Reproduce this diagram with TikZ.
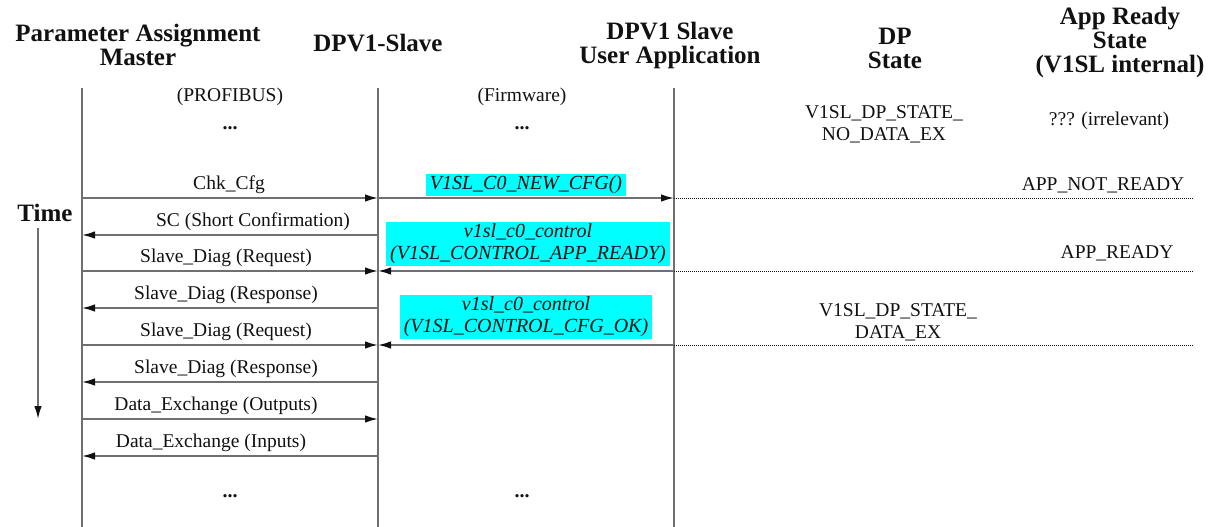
\documentclass[tikz,border=0pt]{standalone}
\usepackage{fontspec}
\setmainfont{Liberation Serif}
\usetikzlibrary{positioning,arrows.meta,calc}
\definecolor{ink}     {HTML}{111111}
\definecolor{rule}    {HTML}{707070}
\definecolor{callfill}{HTML}{00FFFF}
\tikzset{
  >={Latex[length=13pt,width=7.5pt,color=ink]},
  every node/.style={font=\fontsize{19.5}{22}\selectfont, text=ink},
  % --- nodes
  head/.style  = {align=center, inner sep=0pt,
                  font=\fontsize{25}{24}\selectfont\bfseries},
  sub/.style   = {inner sep=0pt},
  dots/.style  = {inner sep=0pt, font=\fontsize{20}{22}\selectfont\bfseries},
  msg/.style   = {inner sep=0pt},
  call/.style  = {fill=callfill, align=center, inner xsep=4pt, inner ysep=2pt,
                  font=\fontsize{20}{22}\selectfont\itshape},
  state/.style = {align=center, inner sep=0pt},
  % --- edges
  life/.style  = {draw=rule, line width=1.4pt},
  e/.style     = {->, draw=rule, line width=1.6pt},
  sepline/.style = {draw=ink, line width=0.6pt, dash pattern=on 1pt off 1pt},
}

\begin{document}
\begin{tikzpicture}[x=1pt,y=-1pt]
  \useasboundingbox (0,0) rectangle (1223,527);

  % headers
  \node[head] (hMaster) at (138,45) {Parameter Assignment\\Master};
  \node[head] (hSlave)  at (378,43) {DPV1-Slave};
  \node[head] (hApp)    at (670,45) {DPV1 Slave\\User Application};
  \node[head] (hDP)     at (895,48) {DP\\State};
  \node[head] (hReady)  at (1120,42) {App Ready\\State\\(V1SL internal)};

  % lifelines
  \coordinate (pamT) at (82,88);   \coordinate (pamB) at (82,527);
  \coordinate (slvT) at (378,88);  \coordinate (slvB) at (378,527);
  \coordinate (appT) at (674,88);  \coordinate (appB) at (674,527);
  \foreach \n in {pam,slv,app}
    \draw[life] (\n T) -- (\n B);

  \node[sub]  (bus)  at (230,97)  {(PROFIBUS)};
  \node[sub]  (fw)   at (522,97)  {(Firmware)};
  \node[dots] (d1)   at (230,128) {...};
  \node[dots] (d2)   at (522,128) {...};
  \node[dots] (d3)   at (230,496) {...};
  \node[dots] (d4)   at (522,496) {...};

  \node[state] (st0) at (884,124)  {V1SL\_DP\_STATE\_\\NO\_DATA\_EX};
  \node[state] (rd0) at (1109,121) {??? (irrelevant)};

  % master <-> slave telegrams
  \foreach \i/\y/\lx/\src/\dst/\txt in {
    1/198/229/pam/slv/{Chk\_Cfg},
    2/235/253/slv/pam/{SC (Short Confirmation)},
    3/271/226/pam/slv/{Slave\_Diag (Request)},
    4/308/226/slv/pam/{Slave\_Diag (Response)},
    5/345/226/pam/slv/{Slave\_Diag (Request)},
    6/382/226/slv/pam/{Slave\_Diag (Response)},
    7/419/216/pam/slv/{Data\_Exchange (Outputs)},
    8/456/211/slv/pam/{Data\_Exchange (Inputs)}}
  {
    \coordinate (row\i) at (0,\y);
    \coordinate (\src\i) at (\src T|-row\i);
    \coordinate (\dst\i) at (\dst T|-row\i);
    \draw[e] (\src\i) -- (\dst\i);
    \node[msg] (lbl\i) at (\lx,\y-13) {\txt};
  }

  % slave <-> application calls
  \coordinate (app1) at (appT|-row1);
  \coordinate (app3) at (appT|-row3);
  \coordinate (app5) at (appT|-row5);
  \draw[e] (slv1) -- (app1);
  \draw[e] (app3) -- (slv3);
  \draw[e] (app5) -- (slv5);
  \node[call] (c1) at (526,185) {V1SL\_C0\_NEW\_CFG()};
  \node[call] (c3) at (528,244) {v1sl\_c0\_control\\(V1SL\_CONTROL\_APP\_READY)};
  \node[call] (c5) at (526,317) {v1sl\_c0\_control\\(V1SL\_CONTROL\_CFG\_OK)};

  % state changes
  \coordinate (edge) at (1193,0);
  \foreach \i in {1,3,5} {
    \coordinate (end\i) at (edge|-row\i);
    \draw[sepline] (app\i) -- (end\i);
  }
  \node[state] (rd1) at (1103,185) {APP\_NOT\_READY};
  \node[state] (rd3) at (1117,253) {APP\_READY};
  \node[state] (st5) at (898,322)  {V1SL\_DP\_STATE\_\\DATA\_EX};

  % time axis
  \node[head] (time) at (45,213) {Time};
  \coordinate (tStart) at (38,228);
  \coordinate (tEnd)   at (38,419);
  \draw[e] (tStart) -- (tEnd);
\end{tikzpicture}
\end{document}
